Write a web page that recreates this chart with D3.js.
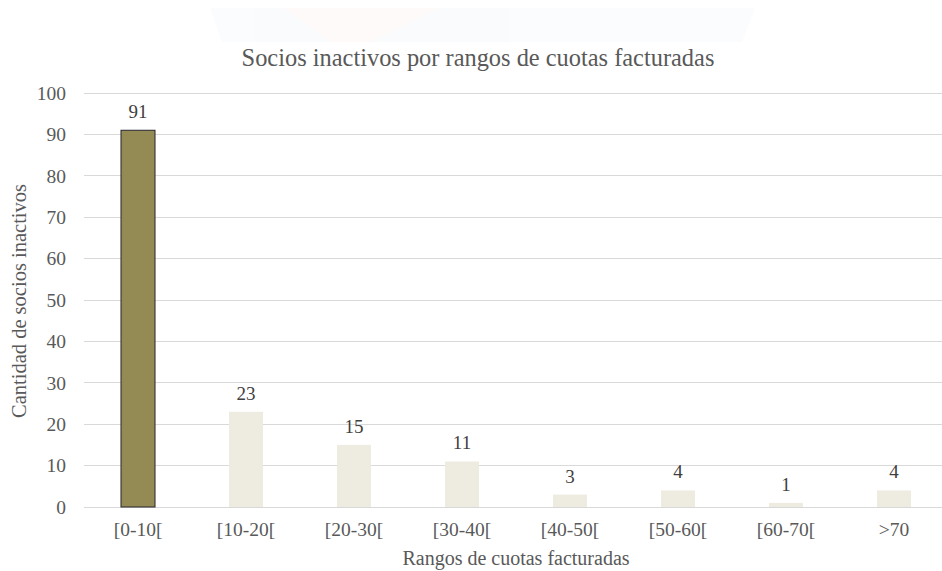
<!DOCTYPE html>
<html>
<head>
<meta charset="utf-8">
<script src="https://cdn.jsdelivr.net/npm/d3@7"></script>
<style>
  html, body { margin: 0; padding: 0; background: #fff; }
  svg { display: block; }
  svg text { font-family: "Liberation Serif", "Times New Roman", Tinos, "DejaVu Serif", serif; }
</style>
</head>
<body>
<script>
// Chart data
const categories = ["[0-10[", "[10-20[", "[20-30[", "[30-40[", "[40-50[", "[50-60[", "[60-70[", ">70"];
const values = [91, 23, 15, 11, 3, 4, 1, 4];
const yTicks = [0, 10, 20, 30, 40, 50, 60, 70, 80, 90, 100];

const width = 942, height = 571;
const margin = { top: 93, right: -6, bottom: 64, left: 84 };
const textColor = "#595959";

const svg = d3.select("body").append("svg")
  .attr("width", width).attr("height", height);

// Faint header banner
const banner = svg.append("g").attr("opacity", 0.025);
banner.append("path")
  .attr("d", "M210,8 L755,8 L742,42 L222,42 Z")
  .attr("fill", "#4a7fb0");
banner.append("path")
  .attr("d", "M283,8 L440,8 L370,42 L330,42 Z")
  .attr("fill", "#d04a2a");

const x = d3.scaleBand()
  .domain(categories)
  .range([margin.left, width - margin.right])
  .paddingInner(0.685)
  .paddingOuter(0.3425);

const y = d3.scaleLinear()
  .domain([0, 100])
  .range([height - margin.bottom, margin.top]);

// Gridlines
svg.append("g")
  .selectAll("line")
  .data(yTicks)
  .join("line")
  .attr("x1", margin.left)
  .attr("x2", width)
  .attr("y1", d => y(d))
  .attr("y2", d => y(d))
  .attr("stroke", "#d9d9d9")
  .attr("stroke-width", 1)
  .attr("shape-rendering", "crispEdges");

// Y axis labels
const yAxis = d3.axisLeft(y).tickValues(yTicks).tickSize(0).tickPadding(0);
const yg = svg.append("g")
  .attr("transform", `translate(${margin.left - 18},0)`)
  .call(yAxis)
  .attr("font-family", null);
yg.select(".domain").remove();
yg.selectAll("text")
  .attr("font-size", 19.5)
  .attr("fill", textColor);

// X axis labels
const xAxis = d3.axisBottom(x).tickSize(0).tickPadding(0);
const xg = svg.append("g")
  .attr("transform", `translate(0,${y(0)})`)
  .call(xAxis)
  .attr("font-family", null);
xg.select(".domain").remove();
xg.selectAll("text")
  .attr("y", 29)
  .attr("dy", null)
  .attr("font-size", 19.5)
  .attr("fill", textColor);

// Bars
svg.append("g")
  .selectAll("rect")
  .data(values)
  .join("rect")
  .attr("x", (d, i) => x(categories[i]))
  .attr("y", d => y(d))
  .attr("width", x.bandwidth())
  .attr("height", d => y(0) - y(d))
  .attr("fill", (d, i) => i === 0 ? "#948a54" : "#eeece1")
  .attr("stroke", (d, i) => i === 0 ? "#262630" : "none")
  .attr("stroke-width", 1);

// Value labels
svg.append("g")
  .selectAll("text")
  .data(values)
  .join("text")
  .attr("x", (d, i) => x(categories[i]) + x.bandwidth() / 2)
  .attr("y", d => y(d) - 12)
  .attr("text-anchor", "middle")
  .attr("font-size", 19)
  .attr("fill", "#404040")
  .text(d => d);

// Title
svg.append("text")
  .attr("x", 478)
  .attr("y", 66)
  .attr("text-anchor", "middle")
  .attr("font-size", 24.4)
  .attr("fill", textColor)
  .text("Socios inactivos por rangos de cuotas facturadas");

// Axis titles
svg.append("text")
  .attr("x", 516)
  .attr("y", 565)
  .attr("text-anchor", "middle")
  .attr("font-size", 20)
  .attr("fill", textColor)
  .text("Rangos de cuotas facturadas");

svg.append("text")
  .attr("transform", "translate(26,301) rotate(-90)")
  .attr("text-anchor", "middle")
  .attr("font-size", 20.5)
  .attr("fill", textColor)
  .text("Cantidad de socios inactivos");
</script>
</body>
</html>
